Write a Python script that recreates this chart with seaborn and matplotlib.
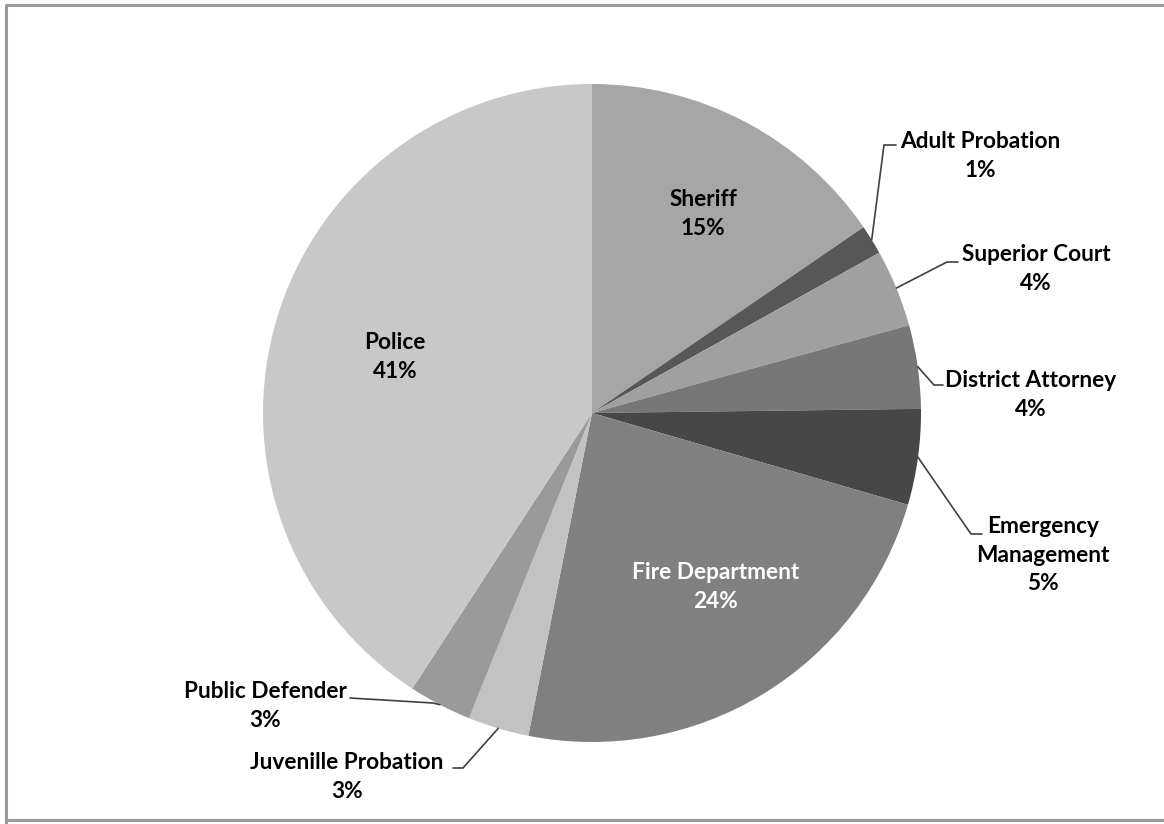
import numpy as np
import matplotlib
matplotlib.use("Agg")
import matplotlib.pyplot as plt
import seaborn as sns

categories = ["Sheriff", "Adult Probation", "Superior Court", "District Attorney",
              "Emergency\nManagement", "Fire Department", "Juvenille Probation",
              "Public Defender", "Police"]
values = [15.45, 1.45, 3.8, 4.1, 4.7, 23.6, 3.0, 3.1, 40.8]
colors = ["#a6a6a6", "#575757", "#a0a0a0", "#777777", "#474747",
          "#808080", "#c2c2c2", "#9a9a9a", "#c8c8c8"]

sns.set_theme(style="white")
plt.rcParams['font.family'] = ['Lato', 'DejaVu Sans']

W, H = 1164, 824
fig = plt.figure(figsize=(W / 100, H / 100), dpi=100)
ax = fig.add_axes([0, 0, 1, 1])
ax.set_xlim(0, W)
ax.set_ylim(0, H)
ax.set_aspect("equal")
ax.axis("off")

cx, cy, R = 592, H - 413, 329
wedges, _ = ax.pie(values, colors=colors, startangle=90, counterclock=False,
                   center=(cx, cy), radius=R, frame=True,
                   wedgeprops=dict(linewidth=0))
ax.set_xlim(0, W)
ax.set_ylim(0, H)
ax.axis("off")

# label positions in image pixels (x, y_top) and leader elbows
inside = {"Sheriff": (703, 214), "Police": (395, 357), "Fire Department": (716, 587)}
outside = {
    "Adult Probation": ((980, 156), (884, 145), (896, 145)),
    "Superior Court": ((1036, 269), (947, 262), (958, 262)),
    "District Attorney": ((1031, 395), (934, 385), (943, 385)),
    "Emergency\nManagement": ((1043, 555), (971, 534), (982, 534)),
    "Public Defender": ((265, 706), (433, 703), (350, 698)),
    "Juvenille Probation": ((347, 777), (463, 768), (453, 768)),
}

FS = 16.3
LS = 1.42
cum = np.cumsum([0] + values[:-1])
total = sum(values)
for name, v, c0 in zip(categories, values, cum):
    txt = f"{name}\n{round(v):d}%"
    mid = (c0 + v / 2) / total * 2 * np.pi
    if name in inside:
        x, y = inside[name]
        col = "white" if name == "Fire Department" else "black"
        ax.text(x, H - y, txt, ha="center", va="center", fontsize=FS,
                fontweight="bold", color=col, linespacing=LS)
    else:
        (lx, ly), (ex, ey), (hx, hy) = outside[name]
        ax.text(lx, H - ly, txt, ha="center", va="center", fontsize=FS,
                fontweight="bold", color="black", linespacing=LS)
        px = cx + R * np.sin(mid)
        py = cy + R * np.cos(mid)
        ax.plot([px, ex, hx], [py, H - ey, H - hy], color="#404040", lw=1.2,
                solid_joinstyle="miter")

# chart border
ax.plot([6, 6, W + 5], [-5, H - 5, H - 5], color="#9a9a9a", lw=2.2, clip_on=False)
ax.plot([6, W + 5], [H - 820, H - 820], color="#9a9a9a", lw=2.2, clip_on=False)

fig.savefig("out.png", dpi=100)
